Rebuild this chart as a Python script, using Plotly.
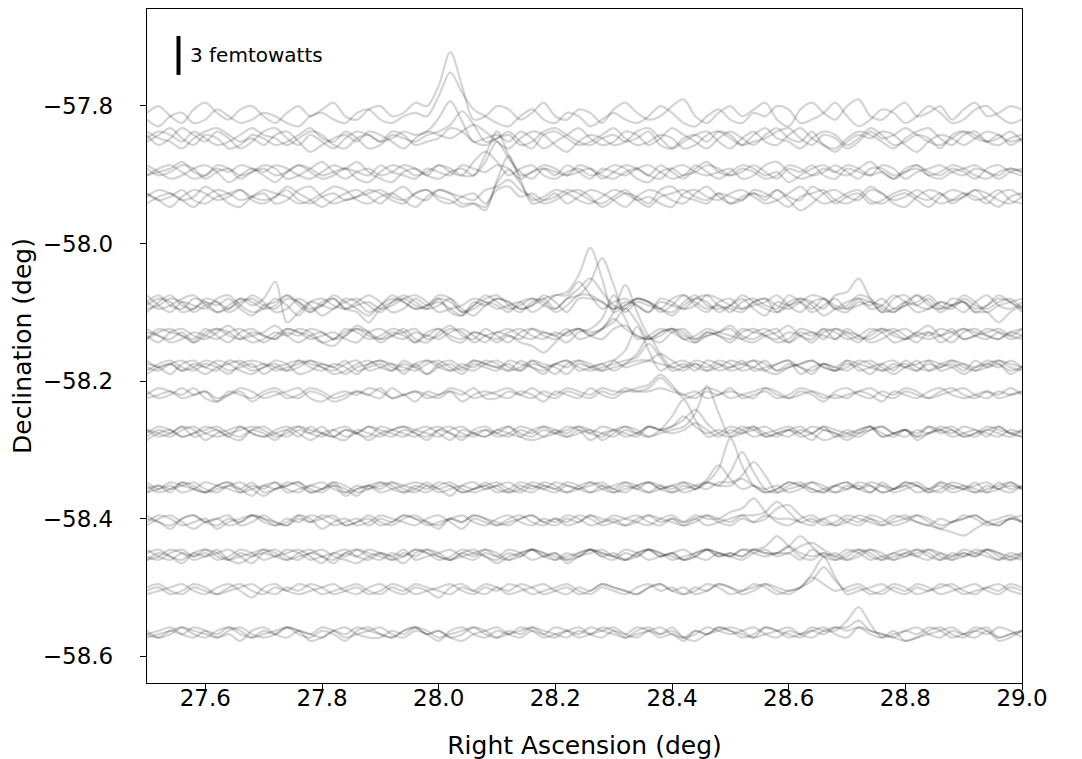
import numpy as np
import plotly.graph_objects as go

# ---------------- data ----------------
# Right-ascension sample grid (deg)
RA_START = 27.5
RA_STEP = 0.02
N_SAMPLES = 76
ra = np.round(RA_START + RA_STEP * np.arange(N_SAMPLES), 4)

# Declination of each scan row (deg)
row_dec = [-57.810, -57.847, -57.896, -57.932,
           -58.090, -58.134, -58.180, -58.220, -58.276,
           -58.357, -58.405, -58.455, -58.505, -58.568]

# Detector timestreams: offsets in units of 0.26 femtowatts, one list per trace
row_01 = [
    [0,2,-1,-3,1,3,0,-2,1,2, -1,-3,0,2,-1,1,3,-1,-2,1, 2,-1,0,3,2,8,18,8,-2,-1, 2,1,-2,0,3,-1,-2,1,0,-3, 1,3,0,-2,-1,2,4,-1,-3,0, 2,-1,1,3,-2,-4,1,3,0,-2, 2,4,-1,-2,1,3,-1,0,2,-2, 1,3,-1,0,2,1],
    [-2,-4,-1,0,-3,-2,1,-1,-3,-2, 0,-1,-3,-4,-1,0,-2,-3,0,1, -2,-3,-1,0,-1,5,12,6,1,-1, -3,-4,-1,1,-2,-3,0,-1,-4,-2, 0,-2,-3,-1,2,0,-3,-4,-1,1, -2,-3,0,-1,2,1,-3,-2,0,3, -1,-4,-2,1,0,-3,-1,2,0,-3, -2,1,2,-1,-3,-2],
]
row_02 = [
    [1,-2,0,3,1,-1,2,0,-3,-1, 2,3,0,-2,1,-1,-3,0,2,1, -1,0,2,1,2,6,11,5,-1,0, 1,-1,2,0,-3,-1,1,3,0,-2, -1,2,1,-2,0,3,1,-1,-3,0, 2,0,-2,1,3,0,-1,2,-2,-3, 0,2,1,-1,-3,0,2,3,0,-2, 1,2,-1,-2,0,1],
    [-1,1,3,0,-2,1,0,-3,-2,1, 0,-2,-1,1,3,0,-1,2,0,-3, -2,1,0,-1,1,2,4,8,4,-1, 0,2,-1,-3,1,2,0,-2,-1,1, 3,0,-2,-1,1,0,-3,-2,1,2, 0,-2,1,3,0,-1,-3,0,2,1, -2,0,3,1,-2,-1,1,0,-3,1, 2,0,-1,1,-2,0],
    [2,0,-1,-3,0,2,3,1,-1,0, -2,1,2,-1,-4,-2,0,1,-1,2, 1,-1,-3,0,2,1,0,2,4,2, -1,-3,0,2,1,-2,-4,-1,1,0, -2,-1,2,3,0,-3,-1,1,2,-1, -3,0,2,-1,-2,1,3,0,-2,-4, -1,1,0,2,1,-2,-4,-1,1,0, -2,0,2,1,-1,0],
    [0,2,1,-1,2,0,-2,-1,1,3, 1,0,-2,0,2,1,-2,-3,0,1, -1,2,1,-2,-1,0,3,2,-1,-2, 0,1,-2,-1,2,3,1,-1,-2,0, 1,-1,0,2,-2,-3,0,1,-1,2, 1,-2,-1,0,2,3,0,-2,1,0, -3,-1,2,0,1,3,1,-1,-2,0, 2,1,-1,0,2,-1],
]
row_03 = [
    [-1,1,2,0,-2,-1,1,0,2,1, -1,-3,0,2,1,-1,0,1,-2,-3, 0,2,1,-1,0,2,1,-1,-1,5, 12,5,-1,0,2,1,-1,0,1,-2, 0,2,1,-1,-2,1,2,0,-1,0, 1,-2,-1,2,3,0,-2,-1,1,0, 2,1,-1,0,-2,1,2,0,-1,1, 0,-2,1,2,0,-1],
    [1,-1,0,2,1,-2,0,1,-1,0, 2,1,-2,-1,1,3,0,-2,0,1, -1,0,2,1,-1,-2,0,1,-1,3, 9,4,0,-2,1,0,-1,2,1,-1, -2,0,1,-1,2,0,-2,1,3,0, -1,1,0,-2,-1,2,1,-1,0,2, 0,-2,1,1,-1,0,2,-1,-2,0, 1,2,0,-1,1,0],
    [2,0,-2,-1,1,2,0,-3,-1,1, 0,2,1,-1,-2,0,2,1,3,0, -2,-3,0,1,-1,2,0,-1,3,6, 3,-1,1,2,-1,-2,0,1,-1,0, 2,1,-2,-3,0,1,-1,2,0,-2, 0,2,1,-1,0,-3,-1,1,2,0, -1,1,3,0,-2,0,1,-1,0,2, 1,-1,-2,0,1,0],
    [-1,0,1,3,0,-1,2,1,-2,0, 1,-1,0,2,0,-2,-1,1,0,-1, 2,0,-1,-2,1,0,-1,2,1,0, 2,1,-2,0,1,-1,2,0,-2,1, 0,-1,1,2,0,-2,-1,0,2,1, -1,0,2,0,-2,1,0,2,-1,-2, 1,0,-1,2,1,-2,0,1,2,0, -1,1,0,-2,0,1],
]
row_04 = [
    [1,-1,-3,0,2,1,-1,0,2,-1, -2,0,3,1,-1,-3,-1,1,2,0, -2,1,3,0,-1,2,1,-2,-2,-4, 5,12,5,-2,-1,1,-2,0,2,1, -1,-3,0,2,1,-1,-2,1,3,0, -2,-1,1,0,2,-1,-4,-2,1,2, 0,-1,2,1,-2,-3,0,2,1,-1, 0,2,-1,-3,0,1],
    [-2,0,1,-1,-3,0,2,1,-1,0, 1,-2,-1,2,3,0,-2,-1,0,2, 1,-1,-2,1,2,0,-1,-3,-2,-3, 4,8,4,-1,0,2,1,-1,-2,0, 2,1,-1,0,-2,-3,1,2,0,-1, 1,2,0,-2,-1,1,3,0,-2,-1, 1,2,-1,-2,0,1,-1,-3,0,2, 1,-1,0,2,-1,-2],
    [0,2,1,-1,0,3,1,-2,-3,0, 2,1,0,-2,-1,1,3,2,-1,-2, 0,1,-1,-3,0,2,1,0,-1,2, 3,5,2,0,-2,-1,1,2,0,-3, -1,1,0,-2,2,3,0,-1,-2,1, 0,-1,2,1,-1,-3,0,1,2,-1, -2,0,3,1,-1,0,2,0,-2,-1, 1,0,-2,1,2,0],
    [1,-1,0,2,-1,-2,0,1,2,0, -1,0,2,-1,-2,0,1,-1,0,1, 2,0,-1,1,2,-1,-2,0,1,-2, 2,3,0,1,-1,0,2,1,-1,-2, 0,2,-1,-3,0,1,2,0,-1,1, -2,0,1,-1,2,0,-1,3,1,-2, 0,1,-2,-1,1,2,0,-1,1,-2, 0,2,1,-1,-2,0],
]
row_05 = [
    [-2,1,3,0,-1,2,1,-2,0,3, 1,-2,-1,2,0,-3,-1,1,2,0, -2,1,3,1,-1,0,2,-1,-3,0, 2,1,-1,0,2,3,4,9,17,8, -2,0,2,1,-1,-3,0,2,1,-2, 0,3,1,-1,-2,1,2,0,-3,-1, 1,2,-1,0,3,1,-2,-1,1,0, -2,1,3,0,-1,1],
    [1,-1,0,2,3,0,-2,-1,1,2, 0,-1,2,1,-2,0,3,1,-1,-3, 0,2,1,-1,0,3,2,-2,-1,1, 0,-2,1,2,0,-1,2,3,7,14, 6,-2,1,0,-1,2,3,0,-2,1, 2,-1,0,1,3,0,-2,1,2,-1, 0,3,2,-1,-2,0,1,3,0,-1, 2,0,-1,1,2,-1],
    [3,0,-2,1,0,-1,2,3,0,-2, -1,2,0,-3,1,2,0,-1,1,3, 1,-2,-1,2,0,1,-1,-3,0,2, 3,0,-2,1,2,-1,2,5,8,4, 0,-1,2,1,-2,0,3,1,-1,0, -2,1,2,0,-1,3,1,-2,0,2, -1,0,1,-2,2,3,0,-1,1,0, 3,1,-2,0,1,2],
    [0,2,1,-2,-1,1,0,2,-1,-3, 0,1,3,0,-2,1,2,-1,0,1, -1,0,2,3,1,-2,-1,0,2,1, -1,0,1,-2,0,3,3,7,3,-1, 1,2,0,-2,1,0,-1,2,3,0, -1,-2,1,2,0,-1,1,3,2,-1, -2,1,0,2,-1,0,3,1,-2,0, 1,-1,0,2,1,-2],
    [-1,0,2,1,-2,0,1,-1,2,0, 2,7,-5,-2,1,0,-1,2,1,-2, 0,3,1,-1,0,2,-2,-3,1,0, 2,1,-1,0,3,1,-2,2,2,1, -1,0,2,1,-1,-2,1,3,0,-1, 0,2,-1,-3,1,0,2,1,-1,3, 4,8,2,-2,-1,1,0,2,-1,0, 1,-2,0,3,1,-1],
    [1,3,0,-1,2,1,-2,0,2,1, -1,0,3,1,-1,0,2,-1,-2,-5, -1,1,2,0,-1,2,1,-2,0,3, 1,-1,0,2,1,-2,0,3,3,1, -1,1,0,-2,2,1,-1,0,3,2, 0,-1,1,2,-2,0,1,-1,2,0, -1,2,1,0,-2,1,3,0,-1,2, 1,-2,-2,-5,-2,0],
]
row_06 = [
    [0,-2,1,2,0,-1,1,3,0,-2, -1,1,0,2,1,-2,-3,0,2,1, -1,0,2,-1,-2,1,3,0,-1,2, 0,-2,1,2,0,-1,1,2,0,2, 7,15,7,0,-2,1,2,-1,0,1, 2,-1,-2,0,1,3,0,-1,2,1, -1,0,2,1,-2,-1,1,3,0,-2, 1,2,0,-1,1,0],
    [2,0,-1,1,-2,0,2,1,-1,0, 1,3,0,-2,0,1,-1,2,1,-1, 0,2,1,-2,0,-1,1,2,0,-2, 1,0,-1,2,1,0,-2,1,2,5, 12,5,-1,0,2,1,-1,-2,1,0, -1,2,1,0,-2,-1,2,1,0,-1, 2,0,-1,1,2,0,-2,1,0,2, -1,0,2,1,-1,0],
    [-1,1,2,0,-1,2,0,-2,1,2, 0,-1,1,0,2,1,-1,0,3,1, -2,0,1,2,-1,0,2,1,-2,0, 1,2,0,-1,1,0,2,-1,0,2, 4,8,4,-1,0,2,1,-2,0,1, 3,0,-1,1,2,-2,0,1,-1,2, 0,-2,1,2,0,-1,1,0,2,1, -1,0,1,2,0,-1],
    [1,0,-2,-1,1,0,-1,1,2,0, -2,0,2,1,-1,0,1,-1,-2,1, 2,0,-1,1,0,2,-1,-2,1,0, -1,1,2,0,-1,1,0,2,1,2, 5,2,0,-1,1,2,0,-1,1,0, -2,1,2,0,-1,1,0,-2,1,2, 1,-1,0,2,1,-1,0,1,-2,0, 2,1,0,-1,1,2],
    [-1,2,1,0,-2,1,2,0,-1,1, 0,-1,2,1,0,-2,-1,1,2,0, -1,1,0,-2,1,2,0,-1,1,0, -2,0,-2,-3,-5,-2,1,2,0,-1, 2,3,0,-1,1,2,-1,0,2,1, 0,-1,1,2,0,-2,1,0,2,-1, 1,0,-2,-1,1,2,0,-1,0,1, 2,0,-1,1,0,2],
]
row_07 = [
    [1,0,-2,1,2,0,-1,2,1,-1, 0,2,1,-2,-1,1,0,2,-1,0, 1,-1,2,0,-2,1,2,0,-1,1, 2,0,-1,1,0,-2,1,2,0,-1, 2,5,12,5,-1,1,2,0,-1,1, 0,2,-1,0,1,2,-2,0,1,-1, 2,1,0,-1,1,0,2,-1,0,1, -1,2,0,1,-2,0],
    [-1,1,2,0,-1,1,0,-2,1,2, 1,-1,0,1,2,0,-1,1,2,-1, 0,1,-2,1,2,0,-1,1,0,2, 1,-1,0,2,1,0,-2,1,0,1, -1,1,4,9,4,0,1,-1,2,1, -1,0,2,1,-1,0,1,2,0,-1, 1,0,-2,1,2,0,-1,1,0,2, 1,-1,0,2,1,0],
    [2,0,1,-1,0,2,1,-1,0,1, -2,0,1,2,0,-1,1,0,-2,1, 2,1,0,-1,1,2,0,-2,1,0, -1,2,1,0,-1,1,2,0,-1,0, 1,2,3,7,3,-1,0,2,1,-1, 0,1,2,-1,-2,0,1,2,0,-1, 0,2,1,-1,0,1,-1,2,1,0, -2,0,1,2,0,-1],
    [0,-1,1,2,0,-2,0,1,2,0, 1,0,-1,2,1,0,-2,-1,1,2, 0,-1,1,0,2,1,-1,0,2,1, 0,1,-1,2,0,1,2,-1,0,1, 2,0,1,2,4,2,0,1,-1,0, 2,1,0,-1,1,2,0,-1,1,0, -1,1,2,0,-2,0,1,2,-1,0, 1,0,2,1,-1,0],
    [-2,0,1,-1,1,0,2,1,-1,-2, 0,1,-1,0,2,1,0,-2,0,1, 2,0,-1,1,-2,0,1,-1,2,1, 0,-1,2,0,-2,1,0,2,1,-1, 0,1,2,2,1,0,-1,1,0,2, 1,-1,0,2,-1,1,0,-2,1,0, 2,-1,0,1,-1,2,0,-1,1,2, 0,-1,1,0,2,0],
]
row_08 = [
    [0,2,1,-1,0,1,-2,0,2,1, -1,0,1,2,-1,-2,0,1,0,2, 1,-1,0,-2,1,0,2,1,-1,0, 1,2,0,-1,1,0,2,1,0,2, 1,1,2,3,6,3,-1,0,2,1, -1,0,1,2,0,-1,1,0,-2,1, 2,0,-1,1,0,2,1,-1,0,1, 2,0,-1,1,0,1],
    [-1,0,1,0,2,-1,-2,1,0,-1, 1,2,0,-1,1,0,-2,-1,1,0, -1,2,0,1,-1,0,1,-2,0,1, 0,-1,1,0,-2,1,0,-1,2,0, -1,1,1,2,5,2,0,-1,1,0, 2,-1,0,1,-1,0,2,1,-1,0, -1,1,0,-2,1,0,-1,1,2,0, -1,0,1,-1,0,1],
    [1,-1,0,2,0,1,-1,0,1,-2, 0,1,-1,0,2,1,-1,0,1,0, 2,-1,0,1,0,-1,1,0,2,-1, -1,1,0,2,0,-1,1,0,-1,1, 0,2,1,1,2,1,0,1,-1,0, 1,0,-1,2,1,-1,0,1,0,-1, 0,1,2,0,-1,1,0,-1,1,2, 0,-1,1,0,2,0],
]
row_09 = [
    [1,-1,0,2,1,-2,0,1,2,0, -1,1,2,0,-2,0,1,-1,0,2, 1,0,-1,1,2,0,-2,1,0,-1, 1,2,0,-1,1,0,2,1,-2,0, 1,2,0,-1,1,5,10,4,-1,0, 2,1,-1,0,1,2,0,-2,1,0, -1,1,2,0,-1,1,0,2,1,-1, 0,1,-1,2,0,1],
    [-2,0,1,-1,0,2,1,-1,-2,1, 2,0,-1,1,0,2,-1,-2,1,0, -1,1,2,0,-1,1,0,-2,1,2, 0,-1,1,0,2,1,-1,0,1,-2, 0,2,1,-1,0,1,2,6,14,6, -1,0,1,2,0,-1,1,0,2,-1, 0,1,2,-1,0,1,-2,0,1,2, 0,-1,1,0,-1,1],
    [0,2,1,-1,0,1,2,0,-1,1, 0,-2,1,2,0,-1,1,2,0,-1, 2,1,0,-1,1,2,0,-1,0,1, -1,0,2,1,-1,0,1,2,0,-1, 1,0,-1,2,1,2,4,7,3,0, -1,1,2,0,-1,1,0,2,1,0, -2,0,1,2,0,-1,1,0,2,1, -1,0,2,1,0,-1],
    [1,0,-1,1,2,0,-1,0,1,2, 1,-1,0,2,1,0,-1,1,0,-2, 0,1,2,1,0,-1,1,2,0,-1, 1,0,-1,1,2,0,-1,1,0,2, 1,-1,0,2,1,2,5,2,0,1, 0,2,1,-1,0,1,-1,0,2,1, 0,-1,1,2,0,1,-1,0,1,0, 2,1,0,-1,1,0],
    [-1,1,0,2,-1,0,1,-1,2,0, -1,0,1,-1,2,0,-1,1,0,2, 0,-1,1,0,-2,1,2,0,-1,1, 0,2,-1,-2,-1,1,0,2,1,0, -1,1,0,2,1,0,1,3,1,-1, 1,0,2,-1,0,1,2,0,-2,-1, 1,0,2,-1,0,1,-1,2,0,1, -1,0,1,2,0,-1],
]
row_10 = [
    [0,1,-1,2,0,-1,1,2,0,-2, 1,0,2,1,-1,0,1,-2,0,1, 2,0,-1,1,0,2,1,-1,0,1, -1,0,2,1,0,-1,1,0,2,1, -1,0,1,2,0,-1,1,0,2,6, 15,7,1,-1,0,2,1,-1,0,1, 2,0,-1,1,0,2,1,-1,0,2, 1,-1,0,1,2,0],
    [1,-1,0,1,2,0,-1,1,0,2, -1,0,1,2,-1,0,2,1,-1,0, 1,2,0,-1,1,0,-2,1,2,0, 1,-1,0,2,1,0,-1,1,2,0, -1,1,0,2,1,-1,0,1,2,1, 5,11,5,0,-1,1,2,0,-1,1, 0,2,1,-1,0,1,2,0,-1,1, 0,2,-1,0,1,0],
    [-1,0,2,1,0,-1,1,2,-1,0, 1,2,0,-1,1,0,2,-1,0,1, -1,0,1,2,1,-1,0,1,0,2, 0,-1,1,0,2,1,-1,0,1,2, 0,-1,1,2,0,1,-1,0,2,1, 1,4,8,4,-1,0,1,2,0,-1, 1,0,2,1,-1,0,1,-1,2,0, 1,0,-1,2,0,1],
    [2,0,1,-1,0,2,1,0,-1,1, 0,2,-1,0,1,2,0,-1,1,0, 2,1,-1,0,2,0,1,-1,0,1, 2,0,-1,1,0,2,1,0,-1,1, 0,2,1,-1,0,1,2,0,3,7, 3,0,1,-1,0,2,1,0,-1,1, 2,0,1,-1,0,2,1,0,1,-1, 0,1,2,0,-1,1],
    [-1,1,0,2,1,-1,0,1,2,0, -2,0,1,2,0,-1,1,0,-2,1, 0,2,1,0,-1,1,2,0,-1,0, 1,2,0,-1,1,0,2,1,-1,0, 1,2,0,-1,1,0,2,1,0,2, 2,3,1,0,1,-1,0,2,1,-1, 0,1,-1,2,0,1,-1,0,2,1, 0,-1,1,0,2,0],
]
row_11 = [
    [1,0,-2,1,2,0,-1,1,0,2, 1,-1,0,2,1,-2,0,1,-1,0, 2,1,0,-1,1,2,0,-2,1,0, -1,1,2,0,-1,1,0,2,1,-1, 0,1,2,0,-1,1,0,2,1,1, 3,4,7,3,0,-1,1,2,0,-1, 1,0,2,1,-1,0,2,1,-1,0, 1,2,0,-1,1,0],
    [-1,1,2,0,-2,0,1,2,-1,0, 2,0,-1,1,0,2,1,-1,0,2, 0,-1,1,2,0,-2,1,0,2,1, -1,0,1,2,0,-1,1,0,2,1, 0,-1,1,2,0,1,-1,0,2,1, 0,2,2,3,6,3,0,1,-1,0, 2,1,0,-1,1,2,0,-1,1,0, 2,1,-1,0,1,2],
    [0,2,1,-1,0,1,-2,0,1,2, 0,-1,1,0,2,1,-1,0,1,-1, 1,0,2,1,-1,0,1,2,0,-1, 1,2,0,-1,1,0,2,1,-1,0, 2,1,0,-1,1,2,0,1,-1,0, 1,2,0,1,4,5,2,0,1,-1, 0,2,1,-1,0,1,2,0,-2,0, 1,2,0,-1,1,0],
    [2,0,-1,1,2,0,1,-1,0,2, 1,0,-1,2,0,1,2,-1,0,1, -1,0,2,1,0,-1,1,0,2,1, 0,-1,1,2,0,1,-1,0,2,0, 1,-1,0,2,1,0,-1,1,2,0, -1,1,0,2,1,1,0,-1,1,2, 0,-1,1,0,2,1,0,-1,-2,-3, -4,-2,0,1,2,0],
]
row_12 = [
    [-1,0,2,1,-1,0,1,2,0,-2, 1,2,0,-1,1,0,-2,1,2,0, -1,1,0,2,1,-1,0,2,1,0, -2,0,1,2,0,-1,1,0,2,1, 0,-1,1,2,0,1,-1,0,2,1, 0,2,2,3,6,3,0,-1,1,0, 2,1,-1,0,1,2,0,-1,1,0, 2,1,0,-1,1,0],
    [1,2,0,-1,1,0,2,-1,-2,0, 1,0,2,1,-1,0,1,2,0,-1, 1,0,-2,1,2,0,-1,1,0,2, 1,-1,0,2,1,0,-1,1,2,0, -1,1,0,2,1,-1,0,1,2,0, 1,0,2,1,1,3,6,3,0,-1, 1,2,0,-1,1,0,2,1,-1,0, 1,0,2,1,-1,0],
    [0,-1,1,2,0,1,-1,0,2,1, -1,0,1,2,0,-2,1,0,2,1, 0,-1,1,0,2,1,-1,0,1,2, 0,-1,1,2,0,1,-1,0,2,1, 0,2,1,-1,0,1,2,0,-1,1, 0,2,1,0,1,1,3,4,2,0, -1,1,2,0,-1,1,0,2,1,-1, 0,1,2,0,-1,1],
    [2,0,-1,1,0,2,1,-1,0,1, 2,0,-1,1,2,0,-1,1,0,2, 1,-1,0,2,1,0,-1,1,2,0, -1,1,0,2,1,-1,0,1,2,0, 1,-1,0,2,1,0,-1,1,2,0, 1,0,2,1,1,3,1,0,1,-1, 0,2,1,-1,0,1,2,0,-1,1, 0,2,1,-1,0,1],
    [-1,1,0,-2,1,2,0,-1,1,0, 2,1,-1,0,1,2,0,-1,-2,0, 1,0,2,-1,0,1,2,0,-1,1, 0,2,1,-1,0,1,-2,0,1,2, 0,-1,1,2,0,1,-1,0,2,1, 0,-1,1,2,0,1,-1,2,0,1, -1,0,2,1,-1,0,1,2,0,-1, 1,0,2,1,0,-1],
]
row_13 = [
    [0,1,-1,0,2,1,-1,0,1,2, 0,-1,1,0,2,1,-1,0,1,-1, 0,2,1,-1,0,1,2,0,-1,1, 0,2,1,-1,0,1,2,0,-1,1, 0,-1,1,2,0,1,-1,0,2,1, -1,0,1,2,0,-1,1,5,10,4, -1,0,1,2,0,-1,1,0,2,1, -1,0,1,2,0,-1],
    [-1,0,1,2,0,-1,1,2,0,-2, 1,2,0,-1,0,1,2,0,-1,1, 2,0,-1,1,0,-2,1,2,0,-1, 1,0,2,1,-1,0,1,-1,0,2, 1,0,-1,1,2,0,-1,1,0,2, 1,-1,0,2,1,0,1,3,7,3, 0,1,-1,0,2,1,-1,0,1,2, 0,-1,1,0,2,1],
    [1,2,0,-1,1,0,-1,1,2,0, -1,1,0,2,1,-1,0,1,2,0, -1,1,0,2,1,0,-1,1,0,2, 1,-1,0,1,2,0,-1,1,0,2, 1,0,-1,1,2,0,1,-1,0,2, 1,0,2,1,-1,0,1,4,2,0, 1,2,0,-1,1,0,2,1,-1,0, 1,2,0,-1,1,0],
]
row_14 = [
    [0,1,2,0,-1,1,0,2,1,-1, 0,1,2,0,-1,1,0,-2,1,2, 0,-1,1,2,0,1,-1,0,2,1, -1,0,1,2,0,-1,1,0,2,1, 0,-1,1,2,0,1,-1,0,2,1, 0,1,2,0,-1,1,0,2,1,1, 4,8,3,-1,0,1,2,0,-1,1, 0,2,1,-1,0,1],
    [-1,0,1,2,0,-1,1,2,0,-1, 1,0,2,1,-2,-1,1,0,2,1, 0,-1,1,2,0,1,-1,-2,0,1, 2,0,-1,1,0,2,1,-1,0,1, 2,0,-1,1,0,2,-1,-2,0,1, 2,1,-1,0,1,2,0,-1,1,2, 2,4,1,0,-1,-2,-1,1,2,0, -1,1,0,2,1,-1],
    [1,-1,0,2,1,0,-1,1,2,0, -1,0,2,1,0,-1,1,2,0,-1, -1,1,0,2,1,-1,0,1,2,0, -1,1,0,2,1,0,-1,1,0,2, 1,-1,0,1,2,0,-1,1,0,2, 1,0,-1,2,1,0,-1,1,0,2, 1,2,0,-1,1,-2,-1,0,1,2, 0,-1,1,-2,-1,1],
    [0,-1,1,0,2,1,-1,0,-2,1, 2,0,-1,1,0,2,1,-1,0,1, 2,0,-1,1,0,-2,1,2,0,-1, 1,0,2,1,-1,0,1,2,0,-1, 1,0,2,1,-1,0,-2,1,0,2, 1,-1,0,2,1,-1,0,1,2,0, -1,2,1,0,-1,1,0,2,1,-1, 0,1,2,-1,0,1],
]
rows = [row_01, row_02, row_03, row_04, row_05, row_06, row_07,
        row_08, row_09, row_10, row_11, row_12, row_13, row_14]

FW_PER_UNIT = 0.26         # femtowatts per stored unit
DEG_PER_FW = 0.0189        # vertical plotting scale (deg of declination per fW)

SCALE_BAR_FW = 3
SCALE_BAR_LABEL = "3 femtowatts"
SCALE_BAR_RA = 27.554
SCALE_BAR_DEC = -57.7265

x_ticks = [27.6, 27.8, 28.0, 28.2, 28.4, 28.6, 28.8, 29.0]
y_ticks = [-57.8, -58.0, -58.2, -58.4, -58.6]

# ---------------- figure ----------------
FONT = "DejaVu Sans"
fig = go.Figure()

for dec, traces in zip(row_dec, rows):
    for vals in traces:
        n = min(len(vals), len(ra))
        y = dec + np.asarray(vals[:n], dtype=float) * FW_PER_UNIT * DEG_PER_FW
        fig.add_trace(go.Scatter(
            x=ra[:n], y=y, mode="lines",
            line=dict(color="rgba(0,0,0,0.17)", width=2.2, shape="spline", smoothing=0.9),
            hoverinfo="skip", showlegend=False))

half = SCALE_BAR_FW * DEG_PER_FW / 2
fig.add_trace(go.Scatter(
    x=[SCALE_BAR_RA, SCALE_BAR_RA],
    y=[SCALE_BAR_DEC - half, SCALE_BAR_DEC + half],
    mode="lines", line=dict(color="black", width=4),
    hoverinfo="skip", showlegend=False))
fig.add_annotation(x=SCALE_BAR_RA + 0.016, y=SCALE_BAR_DEC, xref="x", yref="y",
                   text=SCALE_BAR_LABEL, showarrow=False, xanchor="left", yanchor="middle",
                   font=dict(family=FONT, size=20, color="black"))

axis_common = dict(showgrid=False, zeroline=False, showline=True, linecolor="black",
                   linewidth=1.3, mirror=True, ticks="outside", ticklen=6, tickwidth=1.3,
                   tickcolor="black", tickfont=dict(family=FONT, size=23, color="black"))

fig.update_xaxes(range=[27.5, 29.0], tickvals=x_ticks,
                 ticktext=[f"{v:.1f}" for v in x_ticks],
                 title=dict(text="Right Ascension (deg)", font=dict(family=FONT, size=25, color="black"), standoff=26),
                 ticklabelstandoff=-12,
                 **axis_common)
fig.update_yaxes(range=[-58.639, -57.659], tickvals=y_ticks,
                 ticktext=[f"{v:.1f}".replace("-", "\u2212") for v in y_ticks],
                 title=dict(text="Declination (deg)", font=dict(family=FONT, size=25, color="black"), standoff=6),
                 ticklabelstandoff=22,
                 **axis_common)

# the page adds an 8 px body margin, so the margins are offset to land the axes where the reference has them
fig.update_layout(width=1082, height=759,
                  margin=dict(l=139, r=68, t=1, b=84),
                  plot_bgcolor="white", paper_bgcolor="white",
                  font=dict(family=FONT, color="black"),
                  showlegend=False)

fig.write_html("out.html")
